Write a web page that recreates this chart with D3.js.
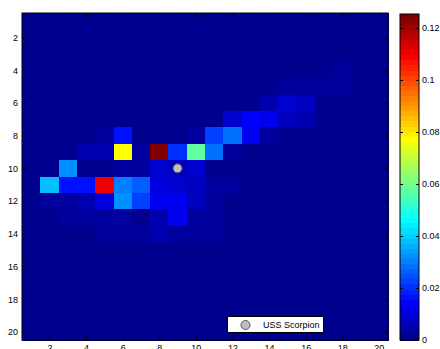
<!DOCTYPE html>
<html>
<head>
<meta charset="utf-8">
<script src="https://cdn.jsdelivr.net/npm/d3@7/dist/d3.min.js"></script>
<style>
  html, body { margin: 0; padding: 0; background: #fff; }
  svg { display: block; }
  text { font-family: "Liberation Sans", Arial, sans-serif; font-size: 9px; fill: #000; }
</style>
</head>
<body>
<svg id="chart" width="440" height="349"></svg>
<script>
// ---------------- data ----------------
const colCategories = d3.range(1, 21);          // columns 1..20
const rowCategories = d3.range(1, 21);          // rows 1..20
const xTickLabels = [2, 4, 6, 8, 10, 12, 14, 16, 18, 20];
const yTickLabels = [2, 4, 6, 8, 10, 12, 14, 16, 18, 20];
const colorbarTicks = [0, 0.02, 0.04, 0.06, 0.08, 0.1, 0.12];
const colorMax = 0.1254;

// probability grid, one array per row (row 1 at top), 20 columns each
const row01 = [0,0,0,0,0,0,0,0,0,0,0,0,0,0,0,0,0,0,0,0];
const row02 = [0,0,0,0,0,0,0,0,0,0,0,0,0,0,0,0,0,0,0,0];
const row03 = [0,0,0,0,0,0,0,0,0,0,0,0,0,0,0,0,0,0,0,0];
const row04 = [0,0,0,0,0,0,0,0,0,0,0,0,0,0,0,0,0,0.003,0,0];
const row05 = [0,0,0,0,0,0,0,0,0,0,0,0,0,0,0.003,0.003,0.003,0.003,0,0];
const row06 = [0,0,0,0,0,0,0,0,0,0,0,0,0,0.005,0.009,0.007,0,0,0,0];
const row07 = [0,0,0,0,0,0,0,0,0,0,0,0.009,0.015,0.0127,0.0068,0.005,0,0,0,0];
const row08 = [0,0,0,0,0.003,0.016,0,0,0,0.003,0.0225,0.028,0.0127,0.003,0,0,0,0,0,0];
const row09 = [0,0,0,0.005,0.005,0.077,0.003,0.1254,0.021,0.0576,0.028,0.003,0,0,0,0,0,0,0,0];
const row10 = [0,0,0.032,0,0.001,0.003,0.003,0.0088,0.006,0.0088,0,0,0,0,0,0,0,0,0,0];
const row11 = [0,0.038,0.0166,0.0166,0.110,0.030,0.0264,0.0107,0.0088,0.0068,0.003,0.003,0,0,0,0,0,0,0,0];
const row12 = [0,0.003,0.003,0.004,0.0098,0.032,0.0225,0.0127,0.0127,0.0068,0.003,0,0,0,0,0,0,0,0,0];
const row13 = [0,0,0.003,0.003,0.003,0.003,0,0.005,0.0127,0.003,0.003,0,0,0,0,0,0,0,0,0];
const row14 = [0,0,0,0,0.003,0.003,0.003,0.005,0.003,0.003,0.002,0,0,0,0,0,0,0,0,0];
const row15 = [0,0,0,0,0,0,0,0,0,0,0,0,0,0,0,0,0,0,0,0];
const row16 = [0,0,0,0,0,0,0,0,0,0,0,0,0,0,0,0,0,0,0,0];
const row17 = [0,0,0,0,0,0,0,0,0,0,0,0,0,0,0,0,0,0,0,0];
const row18 = [0,0,0,0,0,0,0,0,0,0,0,0,0,0,0,0,0,0,0,0];
const row19 = [0,0,0,0,0,0,0,0,0,0,0,0,0,0,0,0,0,0,0,0];
const row20 = [0,0,0,0,0,0,0,0,0,0,0,0,0,0,0,0,0,0,0,0];
const gridRows = [row01,row02,row03,row04,row05,row06,row07,row08,row09,row10,
                  row11,row12,row13,row14,row15,row16,row17,row18,row19,row20];

const markerCol = [9];
const markerRow = [10];
const markerLabel = ["USS Scorpion"];

// ---------------- jet(64) colormap ----------------
function jet64() {
  const out = [];
  for (let i = 1; i <= 64; i++) {
    let r = 0, g = 0, b = 0;
    if (i <= 8) { b = 0.5 + 0.0625 * i; }
    else if (i <= 24) { g = (i - 8) / 16; b = 1; }
    else if (i <= 40) { r = (i - 24) / 16; g = 1; b = 1 - (i - 24) / 16; }
    else if (i <= 56) { r = 1; g = 1 - (i - 40) / 16; }
    else { r = 1 - (i - 56) / 16; }
    out.push(d3.rgb(Math.round(r * 255), Math.round(g * 255), Math.round(b * 255)).formatHex());
  }
  return out;
}
const jetColors = jet64();

// ---------------- layout ----------------
const svg = d3.select("#chart");
const plot = { left: 22, right: 388, top: 13, bottom: 340 };
const cbar = { left: 400, right: 419, top: 14, bottom: 340 };

const x = d3.scaleLinear().domain([0.5, 20.5]).range([plot.left, plot.right]);
const y = d3.scaleLinear().domain([0.5, 20.5]).range([plot.top, plot.bottom]);
const color = d3.scaleQuantize().domain([0, colorMax]).range(jetColors);

// cells
const cells = [];
gridRows.forEach((vals, ri) => vals.forEach((v, ci) => cells.push({ r: rowCategories[ri], c: colCategories[ci], v })));

svg.append("g").attr("shape-rendering", "crispEdges")
  .selectAll("rect").data(cells).join("rect")
  .attr("x", d => x(d.c - 0.5))
  .attr("y", d => y(d.r - 0.5))
  .attr("width", d => x(d.c + 0.5) - x(d.c - 0.5) + 0.5)
  .attr("height", d => y(d.r + 0.5) - y(d.r - 0.5) + 0.5)
  .attr("fill", d => color(d.v));

// marker
svg.append("g").selectAll("circle").data(markerCol).join("circle")
  .attr("cx", (d) => x(d))
  .attr("cy", (d, i) => y(markerRow[i]))
  .attr("r", 4.5)
  .attr("fill", "#bebebe")
  .attr("stroke", "#555")
  .attr("stroke-width", 1);

// axes (ticks inward, mirrored)
function styleAxis(g) {
  g.select(".domain").remove();
  g.selectAll(".tick line").attr("stroke", "#000");
  g.selectAll(".tick text").attr("fill", "#000").style("font-family", "'Liberation Sans', Arial, sans-serif").style("font-size", "9px");
}
svg.append("g").attr("transform", `translate(0,${plot.bottom})`)
  .call(d3.axisBottom(x).tickValues(xTickLabels).tickSize(-4).tickPadding(5)).call(styleAxis);
svg.append("g").attr("transform", `translate(0,${plot.top})`)
  .call(d3.axisTop(x).tickValues(xTickLabels).tickSize(-4).tickFormat("")).call(styleAxis);
svg.append("g").attr("transform", `translate(${plot.left},0)`)
  .call(d3.axisLeft(y).tickValues(yTickLabels).tickSize(-4).tickPadding(4)).call(styleAxis);
svg.append("g").attr("transform", `translate(${plot.right},0)`)
  .call(d3.axisRight(y).tickValues(yTickLabels).tickSize(-4).tickFormat("")).call(styleAxis);

// frame
svg.append("rect")
  .attr("x", plot.left).attr("y", plot.top)
  .attr("width", plot.right - plot.left).attr("height", plot.bottom - plot.top)
  .attr("fill", "none").attr("stroke", "#000").attr("stroke-width", 1);

// legend
const lg = svg.append("g");
lg.append("rect").attr("x", 227.5).attr("y", 316.5).attr("width", 96).attr("height", 16)
  .attr("fill", "#fff").attr("stroke", "#000").attr("stroke-width", 1);
lg.append("circle").attr("cx", 245.5).attr("cy", 325).attr("r", 4.5)
  .attr("fill", "#bebebe").attr("stroke", "#555");
lg.append("text").attr("x", 263).attr("y", 328).text(markerLabel[0]);

// colorbar
const cy = d3.scaleLinear().domain([0, colorMax]).range([cbar.bottom, cbar.top]);
const bands = jetColors.map((c, i) => ({ c, lo: i * colorMax / 64, hi: (i + 1) * colorMax / 64 }));
svg.append("g").attr("shape-rendering", "crispEdges")
  .selectAll("rect").data(bands).join("rect")
  .attr("x", cbar.left).attr("width", cbar.right - cbar.left)
  .attr("y", d => cy(d.hi)).attr("height", d => cy(d.lo) - cy(d.hi) + 0.5)
  .attr("fill", d => d.c);
const fmt = d => String(+d.toFixed(2));
svg.append("g").attr("transform", `translate(${cbar.right},0)`)
  .call(d3.axisRight(cy).tickValues(colorbarTicks).tickSize(-3).tickPadding(3).tickFormat(fmt)).call(styleAxis);
svg.append("g").attr("transform", `translate(${cbar.left},0)`)
  .call(d3.axisLeft(cy).tickValues(colorbarTicks).tickSize(-3).tickFormat("")).call(styleAxis);
svg.append("rect")
  .attr("x", cbar.left).attr("y", cbar.top)
  .attr("width", cbar.right - cbar.left).attr("height", cbar.bottom - cbar.top)
  .attr("fill", "none").attr("stroke", "#000").attr("stroke-width", 1);
</script>
</body>
</html>
